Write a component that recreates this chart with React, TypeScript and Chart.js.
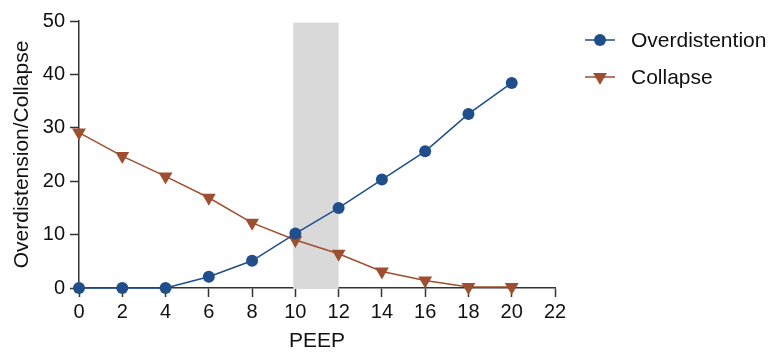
import React, { useEffect, useRef } from "react";
import { Chart, registerables } from "chart.js";

Chart.register(...registerables);

const peep = [0, 2, 4, 6, 8, 10, 12, 14, 16, 18, 20];
const overdistention = [0, 0, 0, 2.1, 5.1, 10.2, 15.0, 20.3, 25.6, 32.6, 38.4];
const collapse = [29.1, 24.7, 20.9, 16.9, 12.2, 9.0, 6.4, 3.1, 1.4, 0.2, 0.2];
const band = [9.9, 12];
const xTicks = [0, 2, 4, 6, 8, 10, 12, 14, 16, 18, 20, 22];

const BLUE = "#1f4e8a";
const BROWN = "#9e4f2f";
const FONT = "'Liberation Sans', Arial, Helvetica, sans-serif";

const bandPlugin = {
  id: "band",
  beforeDatasetsDraw(chart: any) {
    const { ctx, scales } = chart;
    const x = scales.x;
    const y = scales.y;
    const x0 = x.getPixelForValue(band[0]);
    const x1 = x.getPixelForValue(band[1]);
    const y0 = y.getPixelForValue(49.7);
    const y1 = y.getPixelForValue(0) + 1;
    ctx.save();
    ctx.fillStyle = "#d9d9d9";
    ctx.fillRect(x0, y0, x1 - x0, y1 - y0);
    ctx.restore();
  },
};

const legendPlugin = {
  id: "customLegend",
  afterDraw(chart: any) {
    const { ctx, chartArea } = chart;
    const items = [
      { label: "Overdistention", color: BLUE, shape: "circle", y: chartArea.top + 19 },
      { label: "Collapse", color: BROWN, shape: "triangle", y: chartArea.top + 56 },
    ];
    const lx0 = chartArea.right + 30;
    const lx1 = lx0 + 30;
    const cx = (lx0 + lx1) / 2;
    ctx.save();
    for (const it of items) {
      ctx.strokeStyle = it.color;
      ctx.lineWidth = 1.5;
      ctx.beginPath();
      ctx.moveTo(lx0, it.y);
      ctx.lineTo(lx1, it.y);
      ctx.stroke();
      ctx.fillStyle = it.color;
      ctx.beginPath();
      if (it.shape === "circle") {
        ctx.arc(cx, it.y, 6, 0, Math.PI * 2);
      } else {
        const r = 8;
        ctx.moveTo(cx - r * 0.866, it.y - r * 0.5);
        ctx.lineTo(cx + r * 0.866, it.y - r * 0.5);
        ctx.lineTo(cx, it.y + r);
        ctx.closePath();
      }
      ctx.fill();
      ctx.fillStyle = "#111";
      ctx.font = `21px ${FONT}`;
      ctx.textBaseline = "middle";
      ctx.textAlign = "left";
      ctx.fillText(it.label, lx1 + 16, it.y + 1);
    }
    ctx.restore();
  },
};

export default function App() {
  const ref = useRef<HTMLCanvasElement | null>(null);
  useEffect(() => {
    if (!ref.current) return;
    const chart = new Chart(ref.current, {
      type: "line",
      data: {
        datasets: [
          {
            label: "Overdistention",
            data: peep.map((p, i) => ({ x: p, y: overdistention[i] })),
            borderColor: BLUE,
            backgroundColor: BLUE,
            borderWidth: 1.5,
            pointStyle: "circle",
            pointRadius: 6,
            pointHoverRadius: 6,
            pointBorderWidth: 0,
            clip: false as any,
            order: 1,
          },
          {
            label: "Collapse",
            data: peep.map((p, i) => ({ x: p, y: collapse[i] })),
            borderColor: BROWN,
            backgroundColor: BROWN,
            borderWidth: 1.5,
            pointStyle: "triangle",
            pointRotation: 180,
            pointRadius: 8,
            pointHoverRadius: 8,
            pointBorderWidth: 0,
            clip: false as any,
            order: 2,
          },
        ],
      },
      options: {
        responsive: false,
        animation: false,
        layout: { padding: { left: 0, right: 214, top: 21, bottom: 0 } },
        plugins: {
          legend: { display: false },
          tooltip: { enabled: false },
        },
        scales: {
          x: {
            type: "linear",
            min: 0,
            max: 22,
            afterBuildTicks: (s: any) => {
              s.ticks = xTicks.map((v) => ({ value: v }));
            },
            afterFit: (s: any) => {
              s.height = 64;
            },
            grid: {
              display: true,
              drawOnChartArea: false,
              drawTicks: true,
              tickLength: 9,
              tickWidth: 1.5,
              tickColor: "#333",
            },
            border: { display: true, color: "#333", width: 1.5 },
            ticks: {
              color: "#111",
              font: { family: FONT, size: 20 },
              padding: 3,
              maxRotation: 0,
              autoSkip: false,
            },
            title: {
              display: true,
              text: "PEEP",
              color: "#111",
              font: { family: FONT, size: 21 },
              padding: { top: 0, bottom: -2 },
            },
          },
          y: {
            type: "linear",
            min: 0,
            max: 50,
            ticks: {
              stepSize: 10,
              color: "#111",
              font: { family: FONT, size: 20 },
              padding: 5,
            },
            afterFit: (s: any) => {
              s.width = 79;
            },
            grid: {
              display: true,
              drawOnChartArea: false,
              drawTicks: true,
              tickLength: 9,
              tickWidth: 1.5,
              tickColor: "#333",
            },
            border: { display: true, color: "#333", width: 1.5 },
            title: {
              display: true,
              text: "Overdistension/Collapse",
              color: "#111",
              font: { family: FONT, size: 21 },
              padding: { top: 10, bottom: 0 },
            },
          },
        },
      },
      plugins: [bandPlugin, legendPlugin],
    });
    return () => chart.destroy();
  }, []);
  return (
    <div style={{ position: "fixed", left: 0, top: 0, width: 769, height: 352, background: "#fff" }}>
      <canvas ref={ref} width={769} height={352} style={{ width: 769, height: 352 }} />
    </div>
  );
}
